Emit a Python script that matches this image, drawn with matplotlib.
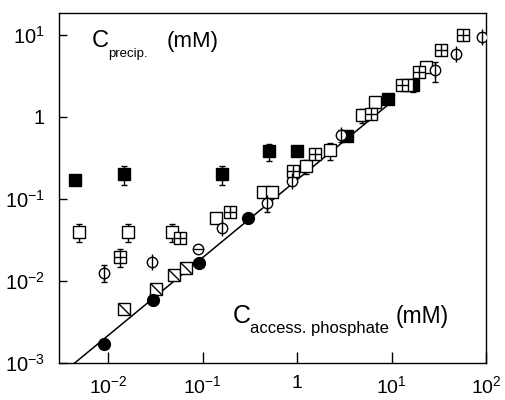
import matplotlib.pyplot as plt

plt.rcParams['font.family'] = ['Liberation Sans', 'DejaVu Sans']
plt.rcParams['mathtext.fontset'] = 'custom'
plt.rcParams['mathtext.rm'] = 'Liberation Sans'
plt.rcParams['mathtext.it'] = 'Liberation Sans'

# filled squares
fsq_x = [0.0044, 0.0145, 0.16, 0.5, 1.0, 3.4, 9.1, 17]
fsq_y = [0.17, 0.2, 0.2, 0.38, 0.38, 0.58, 1.66, 2.45]
fsq_err = [0, 0.05, 0.05, 0.09, 0, 0, 0, 0.45]

# open squares
osq_x = [0.0049, 0.016, 0.047, 0.137, 0.43, 0.54, 1.25, 2.2, 4.8, 6.7, 14.5, 23]
osq_y = [0.04, 0.04, 0.04, 0.059, 0.12, 0.12, 0.25, 0.39, 1.05, 1.5, 2.45, 4.1]
osq_err = [0.01, 0.01, 0.01, 0, 0, 0, 0.05, 0.09, 0.2, 0, 0, 0]

# open circles
oc_x = [0.0089, 0.029, 0.16, 0.48, 0.87, 2.9, 29, 48, 91]
oc_y = [0.0126, 0.017, 0.044, 0.089, 0.165, 0.60, 3.7, 5.9, 9.5]
oc_err = [0.003, 0, 0, 0.02, 0, 0.1, 1.0, 0.6, 1.0]

# squares with a cross
csq_x = [0.0134, 0.058, 0.195, 0.91, 1.55, 6.0, 13.0, 19.5, 33, 57]
csq_y = [0.0196, 0.033, 0.069, 0.22, 0.35, 1.1, 2.45, 3.5, 6.6, 10.0]
csq_err = [0.005, 0, 0, 0, 0, 0, 0, 0, 0, 0]

# filled circles
fc_x = [0.0089, 0.030, 0.091, 0.30]
fc_y = [0.0017, 0.0059, 0.0166, 0.059]
fc_err = [0, 0.0008, 0, 0.006]

# squares with a diagonal
dsq_x = [0.0148, 0.032, 0.049, 0.066]
dsq_y = [0.0045, 0.008, 0.0117, 0.0144]

# circle with a bar
hc_x = [0.089]
hc_y = [0.0245]

# reference line
line_x = [0.0044, 10.5]
line_y = [0.001, 1.6]

xticks = [0.01, 0.1, 1, 10, 100]
xlabels = ['$10^{-2}$', '$10^{-1}$', '1', '$10^{1}$', '$10^{2}$']
yticks = [0.001, 0.01, 0.1, 1, 10]
ylabels = ['$10^{-3}$', '$10^{-2}$', '$10^{-1}$', '1', '$10^{1}$']

fig = plt.figure(figsize=(5.06, 4.0), dpi=100)
ax = fig.add_axes([0.1166, 0.0925, 0.844, 0.875])
ax.set_xscale('log')
ax.set_yscale('log')

ax.plot(line_x, line_y, color='black', lw=1.1, zorder=1)

eb = dict(ls='none', ecolor='black', elinewidth=1, capsize=2.5, capthick=1,
          mec='black', mew=1, zorder=3)

ax.errorbar(fsq_x, fsq_y, yerr=fsq_err, fmt='s', ms=8.5, mfc='black', **eb)
ax.errorbar(osq_x, osq_y, yerr=osq_err, fmt='s', ms=8.5, mfc='white', **eb)
ax.errorbar(oc_x, oc_y, yerr=oc_err, fmt='o', ms=7.5, mfc='white', **eb)
ax.plot(oc_x, oc_y, ls='none', marker='|', ms=11, mec='black', mew=1, zorder=4)
ax.errorbar(csq_x, csq_y, yerr=csq_err, fmt='s', ms=8, mfc='white', **eb)
ax.plot(csq_x, csq_y, ls='none', marker='+', ms=8, mec='black', mew=1, zorder=4)
ax.errorbar(fc_x, fc_y, yerr=fc_err, fmt='o', ms=8.5, mfc='black', **eb)
ax.plot(dsq_x, dsq_y, ls='none', marker='s', ms=8, mfc='white', mec='black', mew=1, zorder=3)
ax.plot(dsq_x, dsq_y, ls='none', marker=[(-1, 1), (1, -1)], ms=8, mec='black', mew=1, zorder=4)
ax.plot(hc_x, hc_y, ls='none', marker='o', ms=7.5, mfc='white', mec='black', mew=1, zorder=3)
ax.plot(hc_x, hc_y, ls='none', marker='_', ms=7.5, mec='black', mew=1, zorder=4)

ax.set_xlim(0.003, 100)
ax.set_ylim(0.001, 18.5)
ax.set_xticks(xticks)
ax.set_xticklabels(xlabels)
ax.set_yticks(yticks)
ax.set_yticklabels(ylabels)
ax.minorticks_off()
ax.tick_params(axis='x', direction='in', length=8, width=1, labelsize=14, pad=9)
ax.tick_params(axis='y', direction='in', length=6, width=1, labelsize=14.5, pad=10)
for s in ax.spines.values():
    s.set_linewidth(1)

# axis captions inside the frame
ax.text(0.077, 0.903, 'C', fontsize=17, transform=ax.transAxes, va='baseline')
ax.text(0.115, 0.874, 'precip.', fontsize=9.5, transform=ax.transAxes, va='baseline')
ax.text(0.253, 0.903, '(mM)', fontsize=16, transform=ax.transAxes, va='baseline')

ax.text(0.407, 0.114, 'C', fontsize=18, transform=ax.transAxes, va='baseline')
ax.text(0.447, 0.086, 'access. phosphate', fontsize=12, transform=ax.transAxes, va='baseline')
ax.text(0.789, 0.114, '(mM)', fontsize=16.5, transform=ax.transAxes, va='baseline')

fig.savefig('out.png', dpi=100)
